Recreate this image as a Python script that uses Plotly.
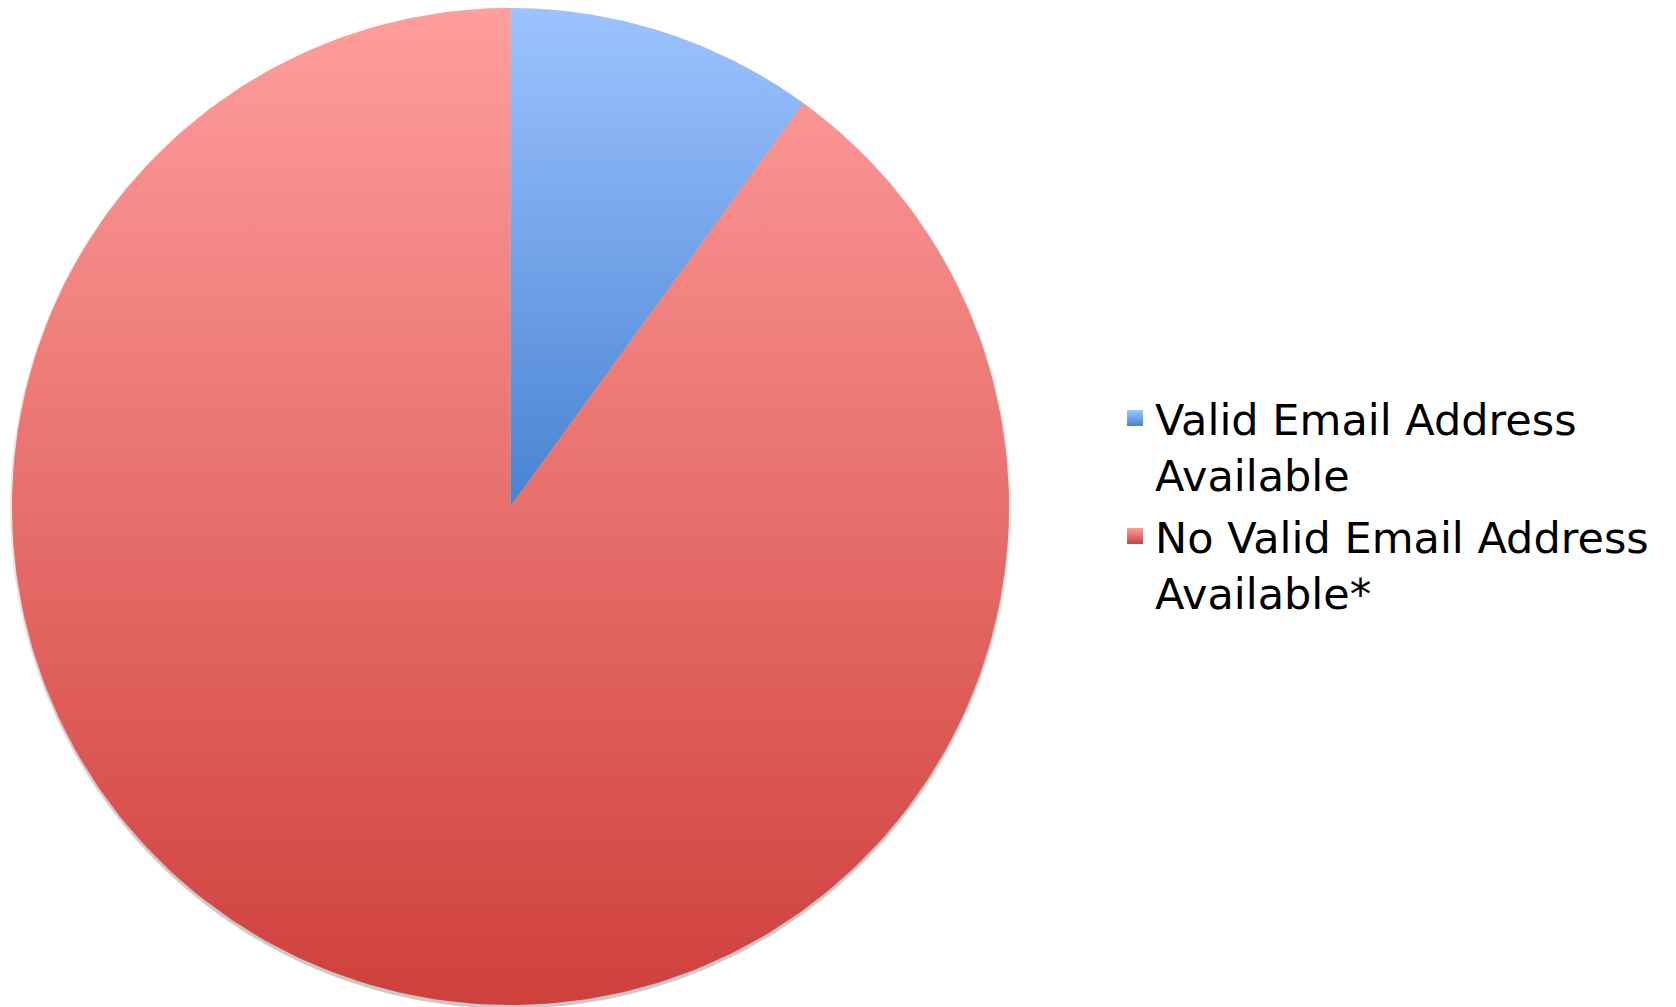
import numpy as np
import plotly.graph_objects as go

labels = ["Valid Email Address<br>Available", "No Valid Email Address<br>Available*"]
values = [10, 90]
top_colors = ["#9DC3FF", "#FF9E9C"]
bottom_colors = ["#4783D2", "#CF403C"]

W, H = 1676, 1007
px = 498.5
cx, cy = 510.5, 506.5

fig = go.Figure()

# soft drop shadow under the pie
t = np.linspace(0, 2 * np.pi, 400)
for r, dy, a in [(1.004, 0.004, 0.10), (1.0, 0.007, 0.12)]:
    fig.add_trace(go.Scatter(
        x=r * np.cos(t), y=r * np.sin(t) - dy, mode="lines", fill="toself",
        line=dict(width=0), fillcolor=f"rgba(0,0,0,{a})",
        showlegend=False, hoverinfo="skip",
    ))

# pie drawn as filled wedges so each slice can carry its vertical gradient
total = sum(values)
start = 0.0
for i, (lab, val, c_top, c_bot) in enumerate(zip(labels, values, top_colors, bottom_colors)):
    end = start + val / total * 360
    ang = np.radians(90 - np.linspace(start, end, 300))
    xs = np.concatenate([[0], np.cos(ang), [0]])
    ys = np.concatenate([[0], np.sin(ang), [0]])
    fig.add_trace(go.Scatter(
        x=xs, y=ys, mode="lines", fill="toself", name=lab,
        line=dict(width=0, color=c_bot),
        fillgradient=dict(type="vertical",
                          colorscale=[[0, c_bot], [1, c_top]]),
        hoverinfo="name", showlegend=False, legendgroup=f"g{i}",
    ))
    # legend entry with a square swatch
    fig.add_trace(go.Scatter(
        x=[None], y=[None], mode="markers", name=lab, legendgroup=f"g{i}",
        marker=dict(symbol="square", size=16, color=c_top,
                    gradient=dict(type="vertical", color=c_bot),
                    line=dict(width=0)),
    ))
    start = end

fig.update_layout(
    margin=dict(l=0, r=0, t=0, b=0),
    paper_bgcolor="white",
    plot_bgcolor="white",
    xaxis=dict(range=[-cx / px, (W - cx) / px], visible=False, fixedrange=True),
    yaxis=dict(range=[-(H - cy) / px, cy / px], visible=False, fixedrange=True),
    legend=dict(x=0.6653, y=0.619, xanchor="left", yanchor="top", valign="top",
                font=dict(family="DejaVu Sans", size=43, color="black"),
                itemwidth=30, tracegroupgap=3),
)
fig.write_html(
    "out.html",
    config={"displayModeBar": False},
    post_script="document.body.style.margin='0';"
                "document.body.style.overflow='hidden';"
                "Plotly.Plots.resize(document.getElementById('{plot_id}'));",
)
